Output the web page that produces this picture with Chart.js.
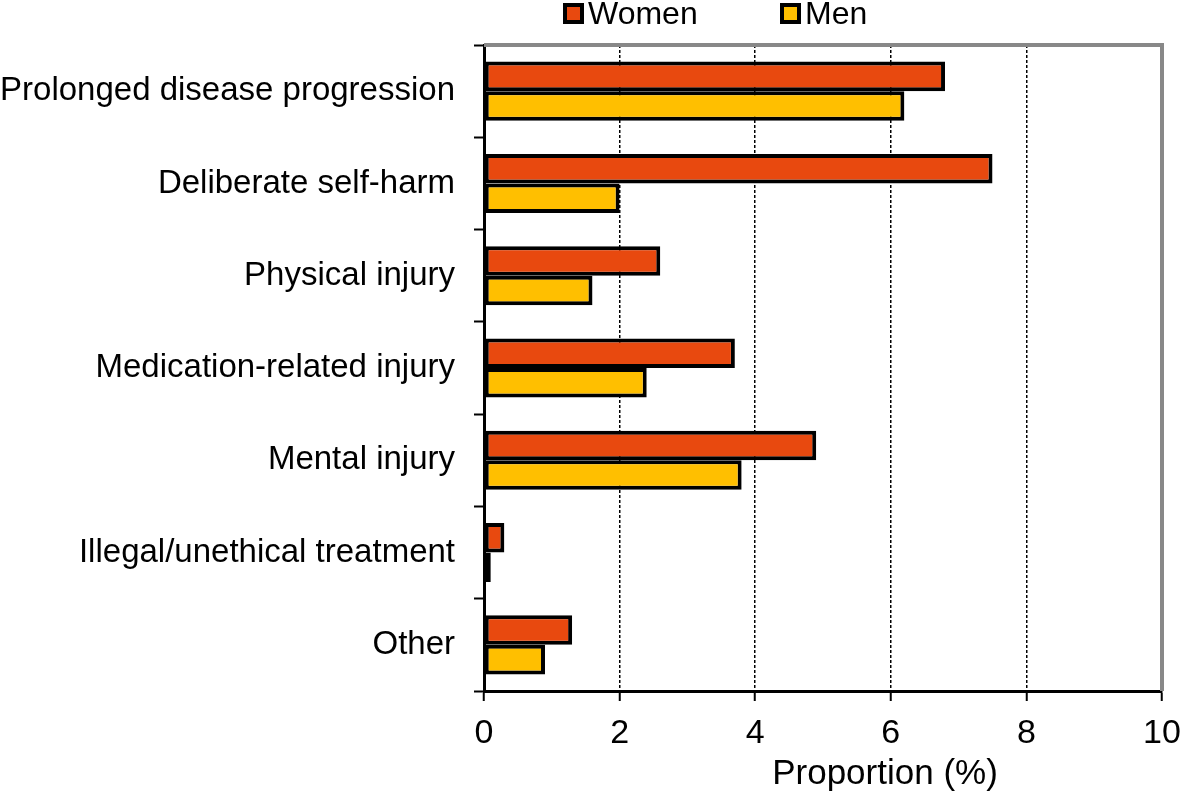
<!DOCTYPE html>
<html>
<head>
<meta charset="utf-8">
<script src="https://cdn.jsdelivr.net/npm/chart.js@4/dist/chart.umd.min.js"></script>
<style>
  html, body { margin: 0; padding: 0; background: #fff; }
  #wrap { position: relative; width: 1181px; height: 799px; font-family: 'Liberation Sans', Arial, sans-serif; }
  #wrap canvas { position: absolute; left: 0; top: 0; }
  .leg { position: absolute; top: -5px; display: flex; align-items: center; font-size: 32px; color: #000; }
  .leg i { display: inline-block; width: 13px; height: 13px; border: 4px solid #000; margin-right: 4px; }
  #xtitle { position: absolute; left: 0; top: 752px; width: 1770px; text-align: center; font-size: 35px; color: #000; }
</style>
</head>
<body>
<div id="wrap">
  <canvas id="chart" width="1181" height="799"></canvas>
  <div class="leg" style="left:563px"><i style="background:#E8490F"></i>Women</div>
  <div class="leg" style="left:780px"><i style="background:#FFBF00"></i>Men</div>
  <div id="xtitle">Proportion (%)</div>
</div>
<script>
const categories = ['Prolonged disease progression', 'Deliberate self-harm', 'Physical injury',
  'Medication-related injury', 'Mental injury', 'Illegal/unethical treatment', 'Other'];
const women = [6.8, 7.5, 2.6, 3.7, 4.9, 0.3, 1.3];
const men   = [6.2, 2.0, 1.6, 2.4, 3.8, 0.1, 0.9];
const xTicks = [0, 2, 4, 6, 8, 10];

const fontFam = "'Liberation Sans', Arial, sans-serif";

// gray frame on top and right of the plot
const frame = {
  id: 'frame',
  afterDraw(chart) {
    const a = chart.chartArea, ctx = chart.ctx;
    ctx.save();
    ctx.strokeStyle = '#888';
    ctx.lineWidth = 4;
    ctx.beginPath();
    ctx.moveTo(a.left, a.top);
    ctx.lineTo(a.right, a.top);
    ctx.lineTo(a.right, a.bottom);
    ctx.stroke();
    ctx.restore();
  }
};

new Chart(document.getElementById('chart'), {
  type: 'bar',
  data: {
    labels: categories,
    datasets: [
      { label: 'Women', data: women, backgroundColor: '#E8490F', borderColor: '#000', borderWidth: 4, borderSkipped: false },
      { label: 'Men',   data: men,   backgroundColor: '#FFBF00', borderColor: '#000', borderWidth: 4, borderSkipped: false }
    ]
  },
  options: {
    indexAxis: 'y',
    responsive: false,
    animation: false,
    devicePixelRatio: 1,
    categoryPercentage: 0.64,
    barPercentage: 1.0,
    layout: { padding: { top: 45, right: 0, left: 0, bottom: 0 } },
    plugins: { legend: { display: false }, tooltip: { enabled: false } },
    scales: {
      x: {
        min: 0, max: 10,
        afterBuildTicks: s => { s.ticks = xTicks.map(v => ({ value: v })); },
        afterFit: s => { s.height = 108; s.paddingRight = 19; },
        grid: {
          color: ctx => (ctx.tick && (ctx.tick.value === 0 || ctx.tick.value === 10)) ? 'rgba(0,0,0,0)' : '#000',
          lineWidth: 1.5,
          tickColor: '#000',
          tickWidth: 2,
          tickLength: 10,
          tickBorderDash: []
        },
        border: { display: true, color: '#000', width: 3, dash: [3, 2] },
        ticks: { color: '#000', padding: 12, font: { size: 34, family: fontFam } }
      },
      y: {
        afterFit: s => { s.width = 484; },
        grid: {
          drawOnChartArea: false,
          offset: true,
          tickColor: '#000',
          tickWidth: 2,
          tickLength: 10
        },
        border: { display: true, color: '#000', width: 3 },
        ticks: { color: '#000', padding: 19, font: { size: 33, family: fontFam } }
      }
    }
  },
  plugins: [frame]
});
</script>
</body>
</html>
